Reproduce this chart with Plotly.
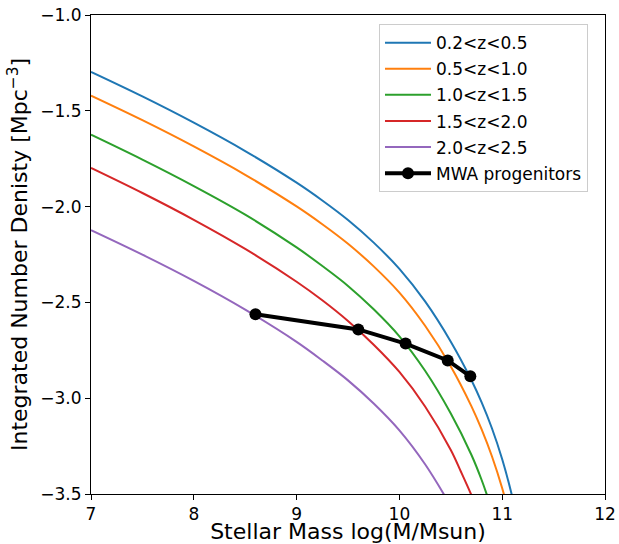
import plotly.graph_objects as go

# ---- data ----
labels = ["0.2<z<0.5", "0.5<z<1.0", "1.0<z<1.5", "1.5<z<2.0", "2.0<z<2.5"]
colors = ["#1f77b4", "#ff7f0e", "#2ca02c", "#d62728", "#9467bd"]

x_z1 = [7.0, 7.5, 8.0, 8.5, 9.0, 9.25, 9.5, 9.75, 10.0, 10.25, 10.5, 10.7, 10.8, 10.9, 11.0, 11.1, 11.15]
y_z1 = [-1.297, -1.425, -1.562, -1.710, -1.875, -1.968, -2.070, -2.188, -2.325, -2.495, -2.705, -2.905,
        -3.022, -3.157, -3.319, -3.519, -3.64]

x_z2 = [7.0, 7.5, 8.0, 8.5, 9.0, 9.25, 9.5, 9.75, 10.0, 10.25, 10.5, 10.7, 10.8, 10.9, 11.0, 11.05]
y_z2 = [-1.421, -1.549, -1.686, -1.834, -1.999, -2.092, -2.194, -2.312, -2.449, -2.622, -2.834, -3.041,
        -3.163, -3.303, -3.470, -3.57]

x_z3 = [7.0, 7.5, 8.0, 8.5, 9.0, 9.25, 9.5, 9.75, 10.0, 10.25, 10.5, 10.7, 10.8, 10.9]
y_z3 = [-1.625, -1.755, -1.893, -2.042, -2.213, -2.310, -2.414, -2.536, -2.677, -2.857, -3.080, -3.295,
        -3.427, -3.582]

x_z4 = [7.0, 7.5, 8.0, 8.5, 9.0, 9.25, 9.5, 9.75, 10.0, 10.25, 10.5, 10.6, 10.7, 10.75]
y_z4 = [-1.798, -1.929, -2.069, -2.221, -2.392, -2.489, -2.597, -2.721, -2.863, -3.043, -3.270, -3.385,
        -3.505, -3.573]

x_z5 = [7.0, 7.5, 8.0, 8.5, 9.0, 9.25, 9.5, 9.75, 10.0, 10.25, 10.5]
y_z5 = [-2.123, -2.251, -2.388, -2.538, -2.706, -2.803, -2.907, -3.028, -3.168, -3.345, -3.563]

mwa_x = [8.60, 9.60, 10.06, 10.47, 10.69]
mwa_y = [-2.562, -2.641, -2.715, -2.803, -2.886]

x_ticks = [7, 8, 9, 10, 11, 12]
x_ticktext = ["7", "8", "9", "10", "11", "12"]
y_ticks = [-1.0, -1.5, -2.0, -2.5, -3.0, -3.5]
y_ticktext = ["\u22121.0", "\u22121.5", "\u22122.0", "\u22122.5", "\u22123.0", "\u22123.5"]

curves = [(x_z1, y_z1), (x_z2, y_z2), (x_z3, y_z3), (x_z4, y_z4), (x_z5, y_z5)]

fig = go.Figure()
for i, ((xs, ys), lab, col) in enumerate(zip(curves, labels, colors)):
    fig.add_trace(go.Scatter(x=xs, y=ys, mode="lines", name=lab, legendgroup=f"g{i}",
                             line=dict(color=col, width=2, shape="spline", smoothing=1.0)))

fig.add_trace(go.Scatter(x=mwa_x, y=mwa_y, mode="lines+markers", name="MWA progenitors",
                         legendgroup="mwa",
                         line=dict(color="black", width=4),
                         marker=dict(color="black", size=12)))

font = "DejaVu Sans"
fig.update_layout(
    width=619, height=544,
    margin=dict(l=91, r=14, t=15, b=50, autoexpand=False),
    paper_bgcolor="white", plot_bgcolor="white",
    font=dict(family=font, size=17, color="black"),
    showlegend=True,
    legend=dict(x=0.5603, y=0.981, xanchor="left", yanchor="top",
                bgcolor="rgba(255,255,255,0.8)", bordercolor="#cccccc", borderwidth=1,
                font=dict(family=font, size=17, color="black"),
                tracegroupgap=1, itemwidth=46, entrywidth=147, entrywidthmode="pixels"),
)
fig.update_xaxes(range=[7, 12], tickvals=x_ticks, ticktext=x_ticktext, automargin=False,
                 showgrid=False, zeroline=False, showline=True, mirror=True,
                 linecolor="black", linewidth=1, ticks="outside", ticklen=5,
                 tickwidth=1, tickcolor="black",
                 tickfont=dict(family=font, size=17, color="black"),
                 title=dict(text="Stellar Mass log(M/Msun)", standoff=4,
                            font=dict(family=font, size=22, color="black")))
fig.update_yaxes(range=[-3.5, -1.0], tickvals=y_ticks, ticktext=y_ticktext, automargin=False,
                 showgrid=False, zeroline=False, showline=True, mirror=True,
                 linecolor="black", linewidth=1, ticks="outside", ticklen=5,
                 tickwidth=1, tickcolor="black",
                 tickfont=dict(family=font, size=17, color="black"),
                 title=dict(text="Integrated Number Denisty [Mpc<sup>\u22123</sup>]", standoff=6,
                            font=dict(family=font, size=22, color="black")))

fig.write_html("out.html")
